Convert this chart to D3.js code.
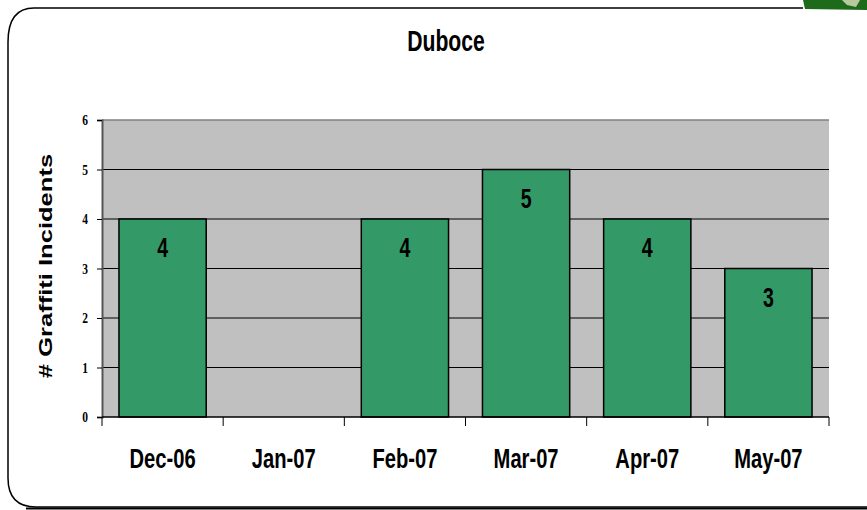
<!DOCTYPE html>
<html>
<head>
<meta charset="utf-8">
<script src="https://cdn.jsdelivr.net/npm/d3@7"></script>
<style>
  body { margin: 0; background: #fff; }
  svg { display: block; }
</style>
</head>
<body>
<svg id="chart" width="867" height="510"></svg>
<script>
"use strict";

// data
var months = ["Dec-06", "Jan-07", "Feb-07", "Mar-07", "Apr-07", "May-07"];
var incidents = [4, 0, 4, 5, 4, 3];
var yTicks = [0, 1, 2, 3, 4, 5, 6];

var sans = "'Liberation Sans', Arial, sans-serif";
var serif = "'Liberation Serif', 'Times New Roman', serif";

var svg = d3.select("#chart");

// condensed text: the original picture is squeezed sideways
function narrowText(sel, x, y, size, sx, family) {
  return sel.append("text")
    .attr("transform", "translate(" + x + "," + y + ") scale(" + sx + ",1)")
    .attr("text-anchor", "middle")
    .attr("font-family", family || sans)
    .attr("font-weight", "bold")
    .attr("font-size", size)
    .attr("fill", "#000");
}

// panel frame, rounded on the left
svg.append("path")
  .attr("d", "M 803 8 L 34 8 Q 8 8 8 42 L 8 478 Q 8 507 36 507 L 880 507")
  .attr("fill", "none")
  .attr("stroke", "#000")
  .attr("stroke-width", 1.5);
svg.append("path")
  .attr("d", "M 26 508.5 L 880 508.5")
  .attr("stroke", "#000")
  .attr("stroke-width", 2);

// corner of the green photo at top right
svg.append("path")
  .attr("d", "M 803 0 L 867 0 L 867 10 L 805 9 Z")
  .attr("fill", "#1d6b1a");
svg.append("path")
  .attr("d", "M 842 0 L 860 0 L 856 7 L 847 5 Z")
  .attr("fill", "#b8c9a0");

var margin = { left: 102, right: 38, top: 120, bottom: 93 };
var width = 867 - margin.left - margin.right;
var height = 510 - margin.top - margin.bottom;

var x = d3.scaleBand().domain(months).range([0, width]).paddingInner(0.28).paddingOuter(0.14);
var y = d3.scaleLinear().domain([0, 6]).range([height, 0]);

var g = svg.append("g").attr("transform", "translate(" + margin.left + "," + margin.top + ")");

g.append("rect")
  .attr("width", width)
  .attr("height", height)
  .attr("fill", "#c0c0c0");

g.append("line")
  .attr("x1", 0).attr("x2", width)
  .attr("y1", 0).attr("y2", 0)
  .attr("stroke", "#808080")
  .attr("stroke-width", 1.5);

g.selectAll(".grid")
  .data(yTicks.filter(function(d) { return d > 0 && d < 6; }))
  .enter().append("line")
  .attr("class", "grid")
  .attr("x1", 0).attr("x2", width)
  .attr("y1", function(d) { return y(d); })
  .attr("y2", function(d) { return y(d); })
  .attr("stroke", "#000")
  .attr("stroke-width", 1);

var rows = months.map(function(m, i) { return { month: m, value: incidents[i] }; })
  .filter(function(d) { return d.value > 0; });

g.selectAll(".bar")
  .data(rows)
  .enter().append("rect")
  .attr("class", "bar")
  .attr("x", function(d) { return x(d.month); })
  .attr("y", function(d) { return y(d.value); })
  .attr("width", x.bandwidth())
  .attr("height", function(d) { return height - y(d.value); })
  .attr("fill", "#339966")
  .attr("stroke", "#000")
  .attr("stroke-width", 1.5);

rows.forEach(function(d) {
  narrowText(g, x(d.month) + x.bandwidth() / 2, y(d.value) + 38, 28, 0.7)
    .text(d.value);
});

// y axis
var yAxis = g.append("g")
  .call(d3.axisLeft(y).tickValues(yTicks).tickSize(5).tickFormat(""));
yAxis.select(".domain").attr("stroke", "#555").attr("stroke-width", 2);
yAxis.selectAll(".tick line").attr("stroke", "#000");
yTicks.forEach(function(t) {
  narrowText(g, -17, y(t) + 5, 14, 0.82, serif).text(t);
});

// x axis, ticks sit on the band edges
var xAxisG = g.append("g").attr("transform", "translate(0," + height + ")");
xAxisG.append("line")
  .attr("x1", 0).attr("x2", width)
  .attr("stroke", "#000").attr("stroke-width", 1.5);
var edges = d3.range(months.length + 1).map(function(i) { return i * width / months.length; });
xAxisG.selectAll(".xt")
  .data(edges)
  .enter().append("line")
  .attr("x1", function(d) { return d; })
  .attr("x2", function(d) { return d; })
  .attr("y1", 0).attr("y2", 9)
  .attr("stroke", "#000");
months.forEach(function(m) {
  narrowText(xAxisG, x(m) + x.bandwidth() / 2, 51, 28, 0.72).text(m);
});

// title
narrowText(svg, 446, 51, 29, 0.73).text("Duboce");

// y label, stretched along its length
svg.append("text")
  .attr("transform", "translate(52,266) rotate(-90) scale(1.42,1)")
  .attr("text-anchor", "middle")
  .attr("font-family", sans)
  .attr("font-weight", "bold")
  .attr("font-size", 18)
  .text("# Graffiti Incidents");
</script>
</body>
</html>
